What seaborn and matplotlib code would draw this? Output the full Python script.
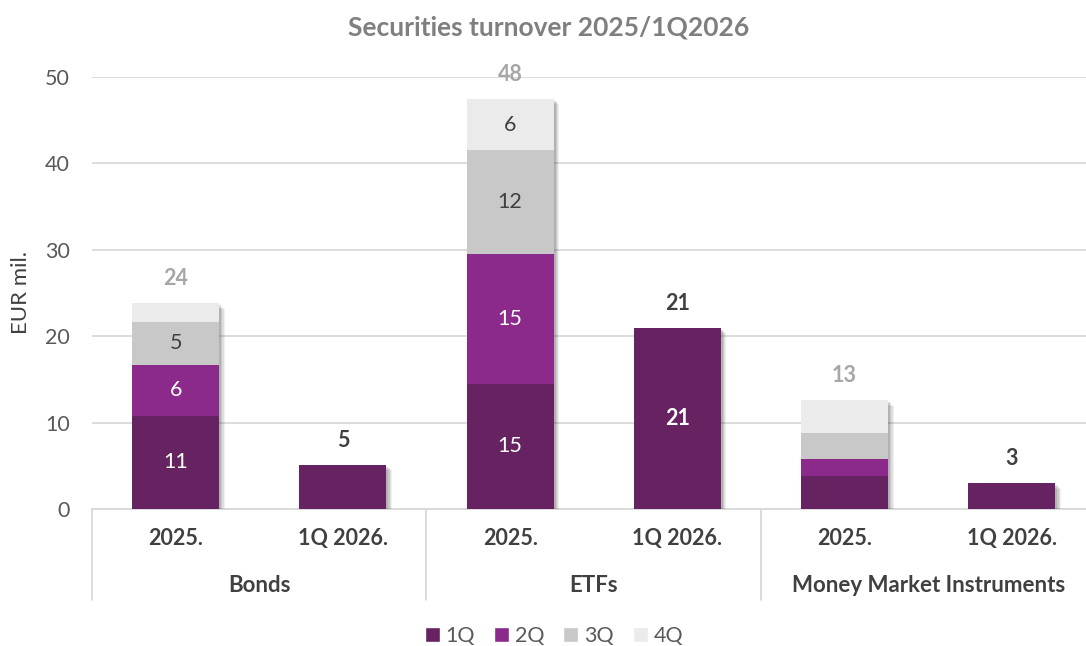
import numpy as np
import pandas as pd
import matplotlib
matplotlib.use('Agg')
import matplotlib.pyplot as plt
import matplotlib.patheffects as pe
from matplotlib.patches import Patch
import matplotlib.transforms as mtransforms
import seaborn as sns

# Data (EUR mil.)
groups = ['Bonds', 'ETFs', 'Money Market Instruments']
periods = ['2025.', '1Q 2026.']
quarters = ['1Q', '2Q', '3Q', '4Q']
q1 = [10.8, 5.1, 14.5, 21.0, 3.8, 3.0]
q2 = [5.9, 0.0, 15.0, 0.0, 2.0, 0.0]
q3 = [5.0, 0.0, 12.0, 0.0, 3.0, 0.0]
q4 = [2.1, 0.0, 6.0, 0.0, 3.8, 0.0]
# labels shown inside the segments (None = no label)
q1_labels = ['11', None, '15', '21', None, None]
q2_labels = ['6', None, '15', None, None, None]
q3_labels = ['5', None, '12', None, None, None]
q4_labels = [None, None, '6', None, None, None]
total_labels = ['24', '5', '48', '21', '13', '3']

colors = ['#662261', '#8B2A8B', '#C8C8C8', '#EBEBEB']
text_in = ['white', 'white', '#404040', '#404040']

cats = [g + '|' + p for g in groups for p in periods]
df = pd.DataFrame({'cat': cats, '1Q': q1, '2Q': q2, '3Q': q3, '4Q': q4})
cum = df[quarters].cumsum(axis=1)
cum['cat'] = cats
long = cum.melt(id_vars='cat', var_name='quarter', value_name='top')

sns.set_style('white')
plt.rcParams['font.family'] = ['Lato', 'DejaVu Sans']
FS = 15.5

fig = plt.figure(figsize=(10.86, 6.46), dpi=100)
ax = fig.add_axes([0.0847, 0.2121, 0.924, 0.6687])

# soft drop shadow, built from a few offset layers
shadow = [pe.SimplePatchShadow(offset=(d, -d), alpha=a, shadow_rgbFace='#333333')
          for d, a in [(4.0, 0.07), (3.2, 0.09), (2.4, 0.12), (1.5, 0.15)]]

# draw cumulative layers from the top down so they stack visually
for i, q in reversed(list(enumerate(quarters))):
    sub = long[long['quarter'] == q]
    n_before = len(ax.patches)
    sns.barplot(data=sub, x='cat', y='top', order=cats, color=colors[i],
                saturation=1, width=0.52, errorbar=None, ax=ax, zorder=3,
                linewidth=0, edgecolor='none')
    if q == '4Q':
        for p in ax.patches[n_before:]:
            p.set_path_effects(shadow + [pe.Normal()])

# segment labels
seg_labels = [q1_labels, q2_labels, q3_labels, q4_labels]
seg_vals = [q1, q2, q3, q4]
for j, c in enumerate(cats):
    base = 0.0
    for i in range(4):
        v = seg_vals[i][j]
        lab = seg_labels[i][j]
        if lab is not None:
            bold = periods[1] in c
            ax.text(j, base + v / 2, lab, ha='center', va='center', fontsize=FS,
                    color=text_in[i], fontweight='bold' if bold else 'normal', zorder=5)
        base += v
    is25 = periods[0] in c
    ax.annotate(total_labels[j], (j, base), xytext=(0, 10), textcoords='offset points',
                ha='center', va='bottom', fontsize=FS, fontweight='bold',
                color='#A6A6A6' if is25 else '#404040', annotation_clip=False, zorder=5)

ax.set_ylim(0, 50)
ax.set_xlim(-0.5, 5.5)
ax.set_yticks(range(0, 51, 10))
ax.yaxis.grid(True, color='#D9D9D9', linewidth=1.3, zorder=0)
ax.set_axisbelow(True)
for s in ['top', 'right', 'left']:
    ax.spines[s].set_visible(False)
ax.spines['bottom'].set_color('#D9D9D9')
ax.spines['bottom'].set_linewidth(1.3)
ax.tick_params(axis='y', length=0, labelsize=FS, labelcolor='#595959', pad=16)
ax.tick_params(axis='x', length=0, pad=14)
ax.set_xticks(range(len(cats)))
ax.set_xticklabels([c.split('|')[1] for c in cats], fontsize=FS, fontweight='bold',
                   color='#404040')
ax.set_xlabel('')
ax.set_ylabel('EUR mil.', fontsize=16, color='#404040', labelpad=10)

# group labels and separators under the axis
trans = mtransforms.blended_transform_factory(ax.transData, ax.transAxes)
for k, g in enumerate(groups):
    ax.text(2 * k + 0.5, -0.178, g, transform=trans, ha='center', va='center',
            fontsize=16, fontweight='bold', color='#404040')
for xs in [-0.5, 1.5, 3.5]:
    ax.plot([xs, xs], [0, -0.21], transform=trans, color='#D9D9D9', lw=1.3,
            clip_on=False)

fig.text(0.505, 0.957, 'Securities turnover 2025/1Q2026', ha='center', va='center',
         fontsize=19, fontweight='bold', color='#7F7F7F')

handles = [Patch(facecolor=colors[i], label=q) for i, q in enumerate(quarters)]
leg = fig.legend(handles=handles, loc='center', bbox_to_anchor=(0.51, 0.016),
                 ncol=4, frameon=False, fontsize=FS, handlelength=0.7,
                 handleheight=0.7, handletextpad=0.25, columnspacing=0.9)
for t in leg.get_texts():
    t.set_color('#595959')

fig.savefig('out.png', dpi=100)
